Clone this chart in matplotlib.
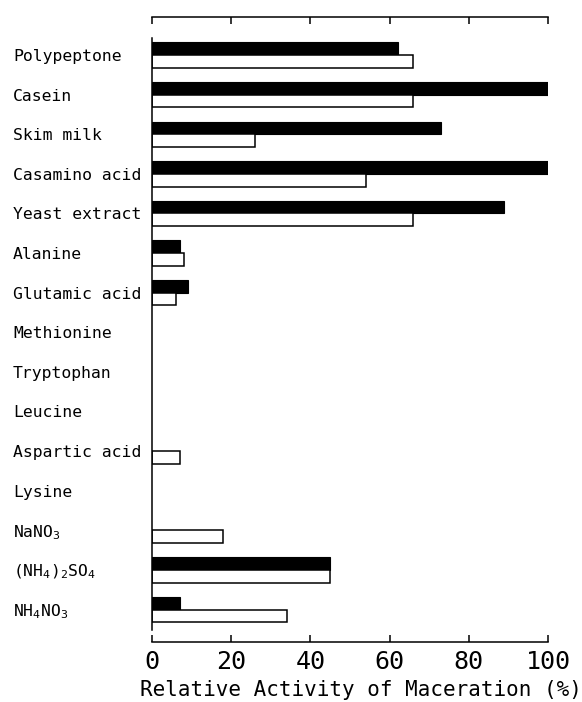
import matplotlib
matplotlib.use("Agg")
import matplotlib.pyplot as plt
import numpy as np

plt.rcParams['font.family'] = ['DejaVu Sans Mono']
plt.rcParams['mathtext.default'] = 'regular'

# Nitrogen sources and relative maceration activity (%)
sources = ["Polypeptone", "Casein", "Skim milk", "Casamino acid", "Yeast extract",
           "Alanine", "Glutamic acid", "Methionine", "Tryptophan", "Leucine",
           "Aspartic acid", "Lysine", r"NaNO$_3$", r"(NH$_4$)$_2$SO$_4$", r"NH$_4$NO$_3$"]
activity_black = [62, 100, 73, 100, 89, 7, 9, 0, 0, 0, 0, 0, 0, 45, 7]
activity_white = [66, 66, 26, 54, 66, 8, 6, 0, 0, 0, 7, 0, 18, 45, 34]
x_ticks = [0, 20, 40, 60, 80, 100]

fig = plt.figure(figsize=(5.82, 7.02), dpi=100)
ax = fig.add_axes([152 / 582, 1 - 642 / 702, 396 / 582, 625 / 702])

y = np.arange(len(sources))
h = 0.32
for yi, v in zip(y, activity_black):
    if v > 0:
        ax.barh(yi - h / 2, v, height=h, color="black", edgecolor="black", linewidth=0.8)
for yi, v in zip(y, activity_white):
    if v > 0:
        ax.barh(yi + h / 2, v, height=h, color="white", edgecolor="black", linewidth=1.1)

ax.set_xlim(0, 100)
ax.set_ylim(14.82, -0.96)

for s in ["top", "bottom", "left"]:
    ax.spines[s].set_linewidth(1.1)
ax.spines["right"].set_visible(False)
ax.spines["left"].set_bounds(-0.43, 14.52)

ax.set_xticks(x_ticks)
ax.set_xticklabels([str(t) for t in x_ticks], fontsize=18)
ax.tick_params(axis="x", direction="in", length=5, width=1.1, top=True, bottom=True,
               labeltop=False, pad=6)

ax.set_yticks(y)
ax.set_yticklabels(sources, fontsize=11.8, ha="left")
ax.tick_params(axis="y", length=0, pad=100)

ax.set_xlabel("Relative Activity of Maceration (%)", fontsize=15, labelpad=0)
ax.xaxis.set_label_coords(0.527, -0.060, transform=ax.transAxes)
ax.xaxis.label.set_va("top")

fig.savefig("out.png", dpi=100)
